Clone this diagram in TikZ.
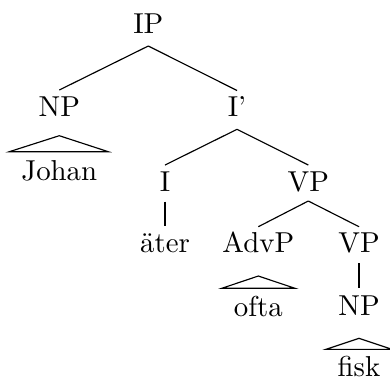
\documentclass[tikz,border=0pt]{standalone}
\usetikzlibrary{calc}
\begin{document}
\begin{tikzpicture}[x=0.347pt,y=-0.347pt,
  lbl/.style={anchor=base,inner sep=0pt},
  branch/.style={line width=0.4pt},
  roof/.style={line width=0.4pt,line join=miter}]
\useasboundingbox (0,0) rectangle (390,378);

% labels, placed on their baselines
\node[lbl] (IP)   at (148.3,33.3)  {IP};
\node[lbl] (NPa)  at (59.3,116.7)  {NP};
\node[lbl] (Ibar) at (237,116.7)   {I'};
\node[lbl] (Johan) at (59.3,180.7) {Johan};
\node[lbl] (I)    at (165,191.7)   {I};
\node[lbl] (VPa)  at (308.3,191.7) {VP};
\node[lbl] (ater) at (165,252.7)   {äter};
\node[lbl] (AdvP) at (258.3,252.7) {AdvP};
\node[lbl] (VPb)  at (359,252.7)   {VP};
\node[lbl] (ofta) at (258.3,316.7) {ofta};
\node[lbl] (NPb)  at (359,315)     {NP};
\node[lbl] (fisk) at (359,376.3)   {fisk};

% branches
\draw[branch] ($(IP.base)+(0,12.7)$) -- ($(NPa.base)+(0,-26.7)$);
\draw[branch] ($(IP.base)+(0,12.7)$) -- ($(Ibar.base)+(0,-26.2)$);
\draw[branch] ($(Ibar.base)+(0,12.6)$) -- ($(I.base)+(0,-26.7)$);
\draw[branch] ($(Ibar.base)+(0,12.6)$) -- ($(VPa.base)+(0,-26.7)$);
\draw[branch] ($(I.base)+(0,10)$) -- ($(ater.base)+(0,-26.4)$);
\draw[branch] ($(VPa.base)+(0,9.3)$) -- ($(AdvP.base)+(0,-26)$);
\draw[branch] ($(VPa.base)+(0,9.3)$) -- ($(VPb.base)+(0,-26)$);
\draw[branch] ($(VPb.base)+(0,10.6)$) -- ($(NPb.base)+(0,-26.7)$);

% roofs over unanalysed constituents
\draw[roof] ($(NPa.base)+(0,19)$) -- ($(Johan.base)+(-50,-29)$)
  -- ($(Johan.base)+(49,-29)$) -- cycle;
\draw[roof] ($(AdvP.base)+(0,23.3)$) -- ($(ofta.base)+(-36.6,-28.4)$)
  -- ($(ofta.base)+(36.7,-28.4)$) -- cycle;
\draw[roof] ($(NPb.base)+(0,23.3)$) -- ($(fisk.base)+(-33,-27)$)
  -- ($(fisk.base)+(33,-27)$) -- cycle;
\end{tikzpicture}
\end{document}
